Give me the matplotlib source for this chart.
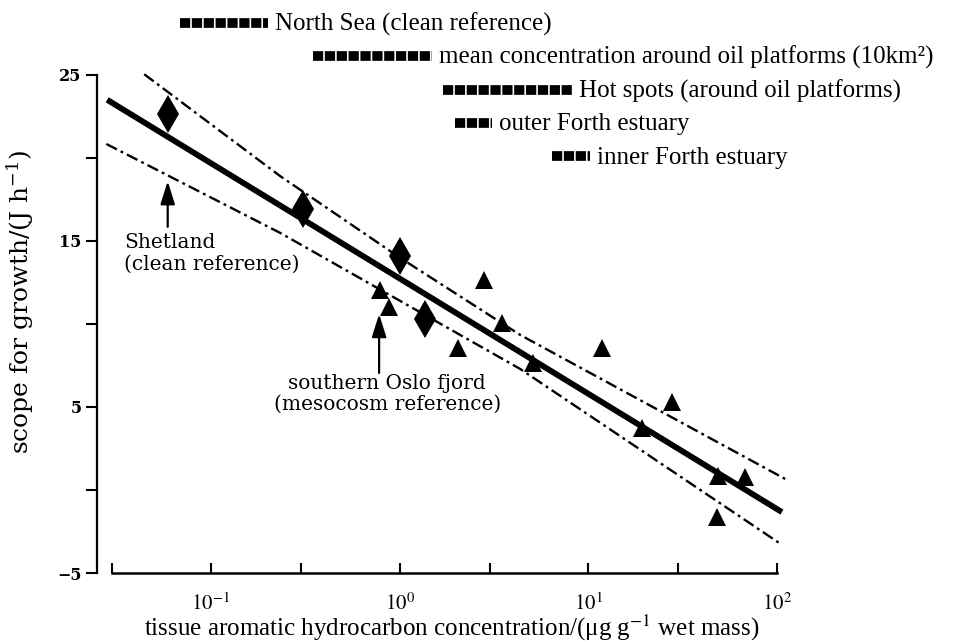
import numpy as np
import matplotlib
matplotlib.use("Agg")
import matplotlib.pyplot as plt
from matplotlib.transforms import blended_transform_factory

# clean reference sites (diamonds)
diamond_x = [0.059, 0.308, 1.0, 1.36]
diamond_y = [22.65, 16.9, 14.1, 10.3]

# other sites (triangles)
tri_x = [0.79, 0.875, 2.04, 2.80, 3.49, 5.1, 11.8, 19.3, 27.8, 48.8, 67.8, 48.2]
tri_y = [12.05, 11.0, 8.55, 12.65, 10.06, 7.65, 8.55, 3.73, 5.3, 0.84, 0.78, -1.63]

# regression line and confidence band
fit_x = [0.0282, 106]
fit_y = [23.5, -1.33]
upper_x = [0.0443, 0.233, 1.0, 4.35, 113]
upper_y = [25.04, 18.9, 14.0, 9.34, 0.6]
lower_x = [0.0279, 0.233, 4.35, 106]
lower_y = [20.84, 15.48, 7.29, -3.3]

# concentration ranges shown above the plot
range_lo = [0.0687, 0.348, 1.70, 1.97, 6.43]
range_hi = [0.201, 1.49, 8.2, 3.09, 10.2]
range_labels = ["North Sea (clean reference)",
                "mean concentration around oil platforms (10km\u00b2)",
                "Hot spots (around oil platforms)",
                "outer Forth estuary",
                "inner Forth estuary"]

yticks = [-5, 0, 5, 10, 15, 20, 25]
ytick_labels = ["\u22125", "", "5", "", "15", "", "25"]
xticks = [0.1, 1, 10, 100]
xtick_labels = [r"$10^{-1}$", r"$10^{0}$", r"$10^{1}$", r"$10^{2}$"]

W, H = 959, 643
fig = plt.figure(figsize=(W / 100, H / 100), dpi=100)
ax = fig.add_axes([97 / W, 1 - 573 / H, (790 - 97) / W, (573 - 50) / H])
ax.set_xscale("log")
ax.set_xlim(0.0249, 117)
ax.set_ylim(-5, 26.5)

serif = "Liberation Serif"
wide = "DejaVu Serif"

band_ls = (0, (5, 1.8, 1.2, 1.8))
ax.plot(fit_x, fit_y, color="black", lw=4.2, solid_capstyle="butt")
ax.plot(upper_x, upper_y, color="black", lw=1.7, ls=band_ls)
ax.plot(lower_x, lower_y, color="black", lw=1.7, ls=band_ls)

ax.plot(diamond_x, diamond_y, "d", color="black", ms=19, mew=0)
ax.plot(tri_x, tri_y, "^", color="black", ms=12.5, mew=0)

# spines
for s in ["top", "right"]:
    ax.spines[s].set_visible(False)
ax.spines["left"].set_bounds(-5, 25)
ax.spines["bottom"].set_bounds(0.03, 100)
ax.spines["left"].set_linewidth(1.6)
ax.spines["bottom"].set_linewidth(1.8)

ax.set_yticks(yticks)
ax.set_yticklabels(ytick_labels, fontfamily=wide, fontweight="bold", fontsize=11.5)
ax.tick_params(axis="y", direction="out", length=8, width=1.5, pad=3)

ax.set_xticks(xticks)
ax.set_xticklabels(xtick_labels, fontsize=15, math_fontfamily="stix")
ax.set_xticks([0.03, 0.3, 3, 30], minor=True)
ax.xaxis.set_minor_formatter(matplotlib.ticker.NullFormatter())
ax.tick_params(axis="x", which="both", direction="in", length=7, width=1.5, pad=14)

ax.set_ylabel("scope for growth/(J h$^{-1}$)", fontfamily=wide, fontsize=18,
              math_fontfamily="dejavuserif")
ax.yaxis.set_label_coords(-0.088, 0.518)
ax.set_xlabel("tissue aromatic hydrocarbon concentration/(\u03bcg g$^{-1}$ wet mass)",
              fontfamily=serif, fontsize=18, math_fontfamily="stix")
ax.xaxis.set_label_coords(0.512, -0.105)
ax.xaxis.label.set_va("center")

# annotations
arrow = dict(arrowstyle="-|>,head_length=0.7,head_width=0.22", color="black",
             lw=1.6, mutation_scale=20, shrinkA=0, shrinkB=0)
ax.annotate("", xy=(0.059, 18.6), xytext=(0.059, 15.85), arrowprops=arrow)
ax.text(0.0347, 15.5, "Shetland\n(clean reference)", fontfamily=wide, fontsize=14.5,
        ha="left", va="top", linespacing=1.2)
ax.annotate("", xy=(0.778, 10.6), xytext=(0.778, 7.05), arrowprops=arrow)
ax.text(0.86, 7.0, "southern Oslo fjord\n(mesocosm reference)", fontfamily=wide,
        fontsize=14.5, ha="center", va="top", linespacing=1.15)

# range bars above the plot
trans = blended_transform_factory(ax.transData, fig.transFigure)
for i, (lo, hi, lab) in enumerate(zip(range_lo, range_hi, range_labels)):
    yf = 1 - (23 + 33.3 * i) / H
    ax.plot([lo, hi], [yf, yf], transform=trans, color="black", lw=7,
            ls=(0, (1.05, 0.17)), solid_capstyle="butt", dash_capstyle="butt",
            clip_on=False)
    ax.annotate(lab, xy=(hi, yf), xycoords=trans, xytext=(5, -1),
                textcoords="offset points", fontfamily=serif, fontsize=18,
                ha="left", va="center", annotation_clip=False)

fig.savefig("out.png", dpi=100)
